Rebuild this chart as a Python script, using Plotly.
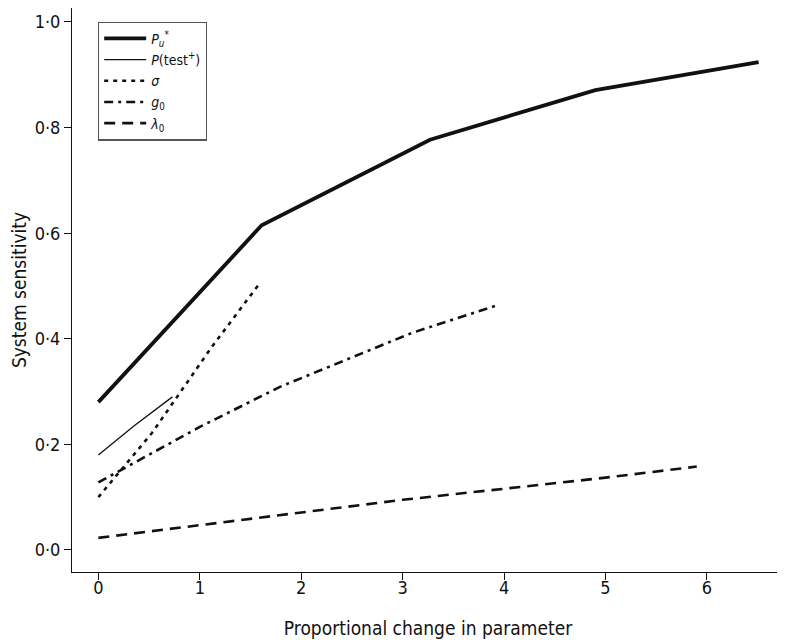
import plotly.graph_objects as go

# Data
pu_x = [0.0, 1.61, 3.27, 4.9, 6.51]
pu_y = [0.280, 0.615, 0.777, 0.871, 0.924]

ptest_x = [0.0, 0.35, 0.73]
ptest_y = [0.180, 0.235, 0.290]

sigma_x = [0.0, 0.53, 1.12, 1.59]
sigma_y = [0.100, 0.222, 0.385, 0.505]

g0_x = [0.0, 1.0, 1.79, 3.09, 3.94]
g0_y = [0.128, 0.233, 0.309, 0.411, 0.464]

lam_x = [0.0, 1.0, 2.0, 3.0, 4.0, 5.0, 5.9]
lam_y = [0.023, 0.047, 0.070, 0.095, 0.116, 0.137, 0.158]

names = ["<i>P</i><sub><i>u</i></sub><sup>*</sup>",
         "<i>P</i>(test<sup>+</sup>)",
         "<i>σ</i>",
         "<i>g</i><sub>0</sub>",
         "<i>λ</i><sub>0</sub>"]

x_ticks = [0, 1, 2, 3, 4, 5, 6]
y_ticks = [0.0, 0.2, 0.4, 0.6, 0.8, 1.0]
y_ticktext = ["0·0", "0·2", "0·4", "0·6", "0·8", "1·0"]

FONT = "DejaVu Sans Condensed, Liberation Sans, Arial, sans-serif"

fig = go.Figure()
fig.add_trace(go.Scatter(x=pu_x, y=pu_y, mode="lines", name=names[0],
                         line=dict(color="#111", width=3.8)))
fig.add_trace(go.Scatter(x=ptest_x, y=ptest_y, mode="lines", name=names[1],
                         line=dict(color="#111", width=1.3)))
fig.add_trace(go.Scatter(x=sigma_x, y=sigma_y, mode="lines", name=names[2],
                         line=dict(color="#111", width=2.6, dash="4px,5px")))
fig.add_trace(go.Scatter(x=g0_x, y=g0_y, mode="lines", name=names[3],
                         line=dict(color="#111", width=2.6, dash="9px,5px,3px,5px")))
fig.add_trace(go.Scatter(x=lam_x, y=lam_y, mode="lines", name=names[4],
                         line=dict(color="#111", width=2.6, dash="11px,7px")))

fig.update_layout(
    width=777, height=632,
    margin=dict(l=64, r=1, t=0, b=68, autoexpand=False),
    paper_bgcolor="white", plot_bgcolor="white",
    font=dict(family=FONT, size=16, color="#111"),
    showlegend=True,
    legend=dict(x=0.0365, y=0.976, xanchor="left", yanchor="top",
                bordercolor="#555", borderwidth=1.2, bgcolor="white",
                font=dict(family=FONT, size=14, color="#111"),
                itemwidth=42, tracegroupgap=0),
    xaxis=dict(range=[-0.26, 6.76], tickvals=x_ticks, ticks="outside",
               ticklen=7, tickwidth=1, tickcolor="#111", automargin=False,
               showline=True, mirror=True, linecolor="#111", linewidth=1,
               showgrid=False, zeroline=False, ticklabelstandoff=-8,
               title=dict(text="Proportional change in parameter", standoff=25),
               tickfont=dict(size=18)),
    yaxis=dict(range=[-0.0417, 1.0265], tickvals=y_ticks, ticktext=y_ticktext,
               ticks="outside", ticklen=7, tickwidth=1, tickcolor="#111",
               showline=True, mirror=True, linecolor="#111", linewidth=1,
               showgrid=False, zeroline=False, automargin=False,
               title=dict(text="System sensitivity", standoff=10),
               tickfont=dict(size=18)),
)

fig.write_html("out.html")
